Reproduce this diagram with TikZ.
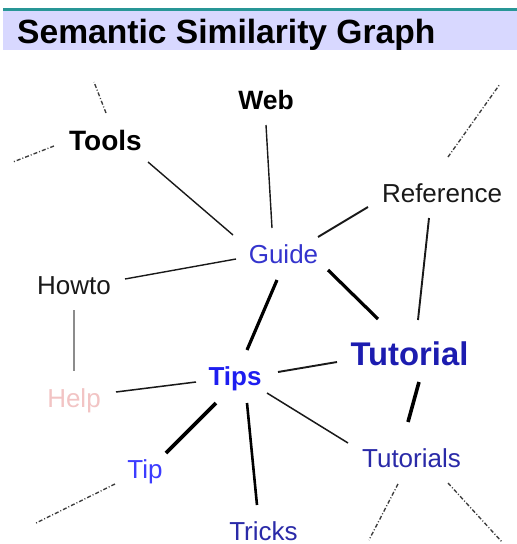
\documentclass[tikz,border=0pt]{standalone}
\usepackage{fontspec}
\setmainfont{Liberation Sans}
\usetikzlibrary{calc}
\definecolor{teal1}{RGB}{40,150,150}
\definecolor{lav}{RGB}{216,216,255}
\definecolor{gblue}{RGB}{52,52,205}
\definecolor{dblue}{RGB}{28,28,176}
\definecolor{bblue}{RGB}{30,30,240}
\definecolor{lblue}{RGB}{60,60,255}
\definecolor{mblue}{RGB}{42,42,168}
\definecolor{pinkh}{RGB}{242,196,196}
\definecolor{ink}{RGB}{25,25,25}
\definecolor{dashc}{RGB}{60,60,60}
\tikzset{
  x=1pt, y=-1pt,
  word/.style={anchor=base, inner sep=0pt, font=\fontsize{26}{30}\selectfont},
  boldword/.style={word, font=\fontsize{27}{31}\selectfont\bfseries},
  link/.style={draw=ink, line width=1.4pt},
  midlink/.style={draw=ink, line width=1.9pt},
  thicklink/.style={draw=black, line width=3.2pt},
  stub/.style={draw=dashc, line width=1.35pt, dash pattern=on 4pt off 2pt on 1pt off 2pt},
}
\begin{document}
\begin{tikzpicture}
\useasboundingbox (0,0) rectangle (517,544);
\fill[white] (0,0) rectangle (517,544);
% header
\fill[lav] (3,11) rectangle (517,50);
\draw[teal1, line width=3pt] (3,9.5) -- (517,9.5);
\node[anchor=base west, inner sep=0pt, font=\fontsize{33.6}{38}\selectfont\bfseries] (title) at (17,43) {Semantic Similarity Graph};

% nodes
\node[boldword, font=\fontsize{28}{32}\selectfont\bfseries] (tools) at (105.5,150) {Tools};
\node[boldword, font=\fontsize{26.5}{30}\selectfont\bfseries] (web) at (266,109) {Web};
\node[word, text=ink] (reference) at (442,202) {Reference};
\node[word, text=gblue] (guide) at (283.5,263) {Guide};
\node[word, text=ink] (howto) at (74,294) {Howto};
\node[boldword, font=\fontsize{32.8}{36}\selectfont\bfseries, text=dblue] (tutorial) at (409.5,365) {Tutorial};
\node[boldword, font=\fontsize{26}{30}\selectfont\bfseries, text=bblue] (tips) at (235,385) {Tips};
\node[word, text=pinkh] (help) at (74,407) {Help};
\node[word, text=lblue] (tip) at (145,478) {Tip};
\node[word, text=mblue] (tricks) at (263.5,540) {Tricks};
\node[word, text=mblue] (tutorials) at (411.5,467) {Tutorials};

% free ends of the dash-dot stubs
\coordinate (s1) at (94,82);
\coordinate (s2) at (13,162);
\coordinate (s3) at (500,84);
\coordinate (s4) at (36,523);
\coordinate (s5) at (369,540);
\coordinate (s6) at (502,542);

% connectors
\draw[link] ($(tools.base)+(42.5,12)$) -- ($(guide.base)+(-50.5,-28)$);
\draw[link] ($(web.base)+(0,16)$) -- ($(guide.base)+(-11.5,-35)$);
\draw[midlink] ($(reference.base)+(-74,5)$) -- ($(guide.base)+(34.5,-26)$);
\draw[link] ($(howto.base)+(51,-15)$) -- ($(guide.base)+(-47.5,-4)$);
\draw[thicklink] ($(guide.base)+(-6.5,17)$) -- ($(tips.base)+(12,-35)$);
\draw[thicklink] ($(guide.base)+(44.5,7)$) -- ($(tutorial.base)+(-31.5,-46)$);
\draw[midlink] ($(reference.base)+(-13,16)$) -- ($(tutorial.base)+(8.5,-45)$);
\draw[midlink] ($(tips.base)+(43,-13)$) -- ($(tutorial.base)+(-72.5,-3)$);
\draw[thicklink, line width=3.6pt] ($(tutorial.base)+(9.5,17)$) -- ($(tutorials.base)+(-3.5,-45)$);
\draw[draw=gray!90, line width=2pt] ($(howto.base)+(0,16)$) -- ($(help.base)+(0,-36)$);
\draw[link, line width=1.5pt] ($(help.base)+(42,-15)$) -- ($(tips.base)+(-39,-3)$);
\draw[thicklink, line width=3.6pt] ($(tips.base)+(-19,18)$) -- ($(tip.base)+(21,-25)$);
\draw[thicklink, line width=2.6pt] ($(tips.base)+(12,18)$) -- ($(tricks.base)+(-6.5,-35)$);
\draw[link, line width=1.5pt] ($(tips.base)+(32,8)$) -- ($(tutorials.base)+(-63.5,-24)$);

% dash-dot stubs
\draw[stub] ($(tools.base)+(0.5,-37)$) -- (s1);
\draw[stub] ($(tools.base)+(-51.5,-4)$) -- (s2);
\draw[stub] ($(reference.base)+(6,-45)$) -- (s3);
\draw[stub] ($(tip.base)+(-30,6)$) -- (s4);
\draw[stub] ($(tutorials.base)+(-13.5,17)$) -- (s5);
\draw[stub] ($(tutorials.base)+(36.5,16)$) -- (s6);
\end{tikzpicture}
\end{document}
